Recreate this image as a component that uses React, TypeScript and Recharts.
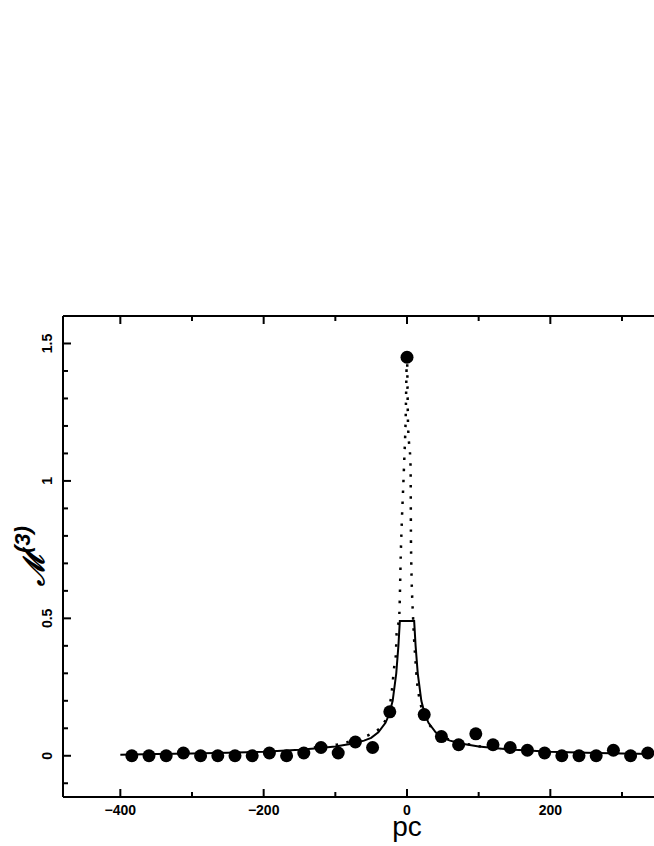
import { ComposedChart, Line, Scatter, XAxis, YAxis } from 'recharts';

// measured points (pc, M3)
const pointX = [-384, -360, -336, -312, -288, -264, -240, -216, -192, -168, -144, -120, -96, -72, -48, -24, 0, 24, 48, 72, 96, 120, 144, 168, 192, 216, 240, 264, 288, 312, 336];
const pointY = [0, 0, 0, 0.01, 0, 0, 0, 0, 0.01, 0, 0.01, 0.03, 0.01, 0.05, 0.03, 0.16, 1.45, 0.15, 0.07, 0.04, 0.08, 0.04, 0.03, 0.02, 0.01, 0, 0, 0, 0.02, 0, 0.01];

// solid model curve
const modelX = [-400, -350, -300, -250, -200, -150, -125, -100, -75, -60, -50, -40, -30, -25, -20, -15, -12, -10, 10, 12, 15, 20, 25, 30, 40, 50, 60, 75, 100, 125, 150, 200, 250, 300, 350, 400];
const modelY = [0.004, 0.006, 0.008, 0.011, 0.015, 0.022, 0.027, 0.034, 0.045, 0.055, 0.065, 0.085, 0.12, 0.15, 0.2, 0.3, 0.4, 0.49, 0.49, 0.4, 0.3, 0.2, 0.15, 0.12, 0.085, 0.065, 0.055, 0.045, 0.034, 0.027, 0.022, 0.015, 0.011, 0.008, 0.006, 0.004];

// dotted curve with the central cusp
const cuspX = [-130, -90, -70, -50, -35, -26, -21, -19.5, -18, -15.5, -14.4, -11, -8.4, -4.2, -2, 0, 1.4, 5, 5.6, 8.5, 10, 12, 14, 18, 24, 35, 50, 70, 90, 130];
const cuspY = [0.03, 0.045, 0.06, 0.08, 0.11, 0.16, 0.24, 0.28, 0.32, 0.37, 0.45, 0.5, 0.76, 1.05, 1.21, 1.45, 1.21, 1.05, 0.76, 0.5, 0.42, 0.34, 0.27, 0.2, 0.15, 0.1, 0.07, 0.05, 0.04, 0.02];

// ticks that fall inside the visible window
const xTicks = [-400, -300, -200, -100, 0, 100, 200, 300];
const yTicks = [-0.1, 0, 0.1, 0.2, 0.3, 0.4, 0.5, 0.6, 0.7, 0.8, 0.9, 1, 1.1, 1.2, 1.3, 1.4, 1.5];

const points = pointX.map((x, i) => ({ x, y: pointY[i] }));
const model = modelX.map((x, i) => ({ x, y: modelY[i] }));
const cusp = cuspX.map((x, i) => ({ x, y: cuspY[i] }));

const FONT = '"Liberation Sans", Arial, sans-serif';

const isMajorX = (v: number) => v % 200 === 0;
const isMajorY = (v: number) => Math.abs(v * 2 - Math.round(v * 2)) < 1e-6;

const BottomTick = (props: any) => {
  const { x, y, payload } = props;
  const major = isMajorX(payload.value);
  return (
    <g>
      <line x1={x} x2={x} y1={y} y2={y - (major ? 8 : 5)} stroke="#000" strokeWidth={2} />
      {major && (
        <text x={x} y={y + 18} textAnchor="middle" fontFamily={FONT} fontWeight="bold" fontSize={14} fill="#000">
          {payload.value < 0 ? '\u2212' + Math.abs(payload.value) : payload.value}
        </text>
      )}
    </g>
  );
};

const TopTick = (props: any) => {
  const { x, y, payload } = props;
  const major = isMajorX(payload.value);
  return <line x1={x} x2={x} y1={y} y2={y + (major ? 8 : 5)} stroke="#000" strokeWidth={2} />;
};

const LeftTick = (props: any) => {
  const { x, y, payload } = props;
  const major = isMajorY(payload.value);
  const lx = x - 16;
  return (
    <g>
      <line x1={x} x2={x + (major ? 8 : 5)} y1={y} y2={y} stroke="#000" strokeWidth={2} />
      {major && (
        <text
          x={lx}
          y={y}
          transform={`rotate(-90, ${lx}, ${y})`}
          textAnchor="middle"
          dominantBaseline="central"
          fontFamily={FONT}
          fontWeight="bold"
          fontSize={14}
          fill="#000"
        >
          {Math.round(payload.value * 10) / 10}
        </text>
      )}
    </g>
  );
};

const Dot = (props: any) => <circle cx={props.cx} cy={props.cy} r={6.5} fill="#000" />;

export default function App() {
  // the frame runs past the right edge of the window, as in the source figure
  return (
    <div style={{ position: 'absolute', left: 0, top: 0, width: 654, height: 846, overflow: 'hidden', background: '#fff' }}>
      <ComposedChart width={808} height={846} margin={{ top: 315, left: 62, right: 57, bottom: 48 }}>
        <XAxis
          type="number"
          dataKey="x"
          domain={[-480, 480]}
          ticks={xTicks}
          height={1}
          tickSize={0}
          tickMargin={0}
          tick={<BottomTick />}
          tickLine={false}
          axisLine={{ stroke: '#000', strokeWidth: 2 }}
          allowDataOverflow
          interval={0}
        />
        <XAxis
          xAxisId="top"
          orientation="top"
          type="number"
          dataKey="x"
          domain={[-480, 480]}
          ticks={xTicks}
          height={1}
          tickSize={0}
          tickMargin={0}
          tick={<TopTick />}
          tickLine={false}
          axisLine={{ stroke: '#000', strokeWidth: 2 }}
          allowDataOverflow
          interval={0}
        />
        <YAxis
          type="number"
          dataKey="y"
          domain={[-0.15, 1.6]}
          ticks={yTicks}
          width={1}
          tickSize={0}
          tickMargin={0}
          tick={<LeftTick />}
          tickLine={false}
          axisLine={{ stroke: '#000', strokeWidth: 2 }}
          allowDataOverflow
          interval={0}
        />
        <Line data={model} dataKey="y" type="linear" stroke="#000" strokeWidth={2} dot={false} isAnimationActive={false} />
        <Line
          data={cusp}
          dataKey="y"
          type="monotone"
          stroke="#000"
          strokeWidth={2.5}
          strokeDasharray="2.5 8.5"
          dot={false}
          isAnimationActive={false}
        />
        <Scatter data={points} dataKey="y" fill="#000" shape={<Dot />} isAnimationActive={false} />
      </ComposedChart>
      <svg width={654} height={846} style={{ position: 'absolute', left: 0, top: 0, pointerEvents: 'none' }}>
        <text x={407} y={836} textAnchor="middle" fontFamily={FONT} fontSize={28} fill="#000">
          pc
        </text>
        <text
          x={34}
          y={556}
          transform="rotate(-90, 34, 556)"
          textAnchor="middle"
          dominantBaseline="central"
          fontFamily='"DejaVu Serif", serif'
          fontStyle="italic"
          fontWeight="bold"
          fontSize={29}
          fill="#000"
        >
          {'\u2133'}
          <tspan fontSize={22} dy={-12} fontFamily={FONT} fontWeight="bold">
            (3)
          </tspan>
        </text>
      </svg>
    </div>
  );
}
